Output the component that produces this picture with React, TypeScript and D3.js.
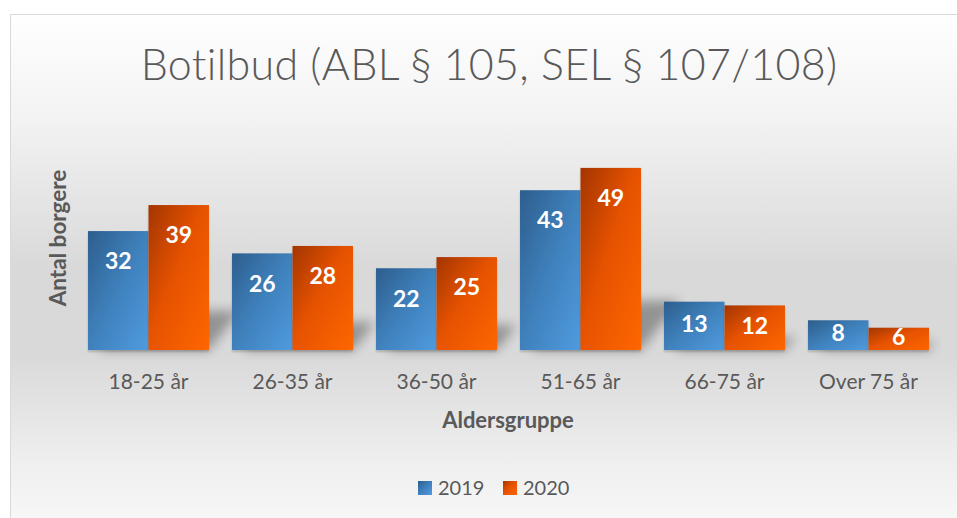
import React from "react";
import * as d3 from "d3";

const categories = ["18-25 år", "26-35 år", "36-50 år", "51-65 år", "66-75 år", "Over 75 år"];
const seriesNames = ["2019", "2020"];
const values2019 = [32, 26, 22, 43, 13, 8];
const values2020 = [39, 28, 25, 49, 12, 6];
const yMax = 60;

const W = 957;
const H = 518;
const FONT = "Lato, 'Open Sans', sans-serif";

export default function App() {
  const x = d3.scaleBand<string>().domain(categories).range([76.5, 940.5]).paddingInner(0.16).paddingOuter(0.08);
  const xs = d3.scaleBand<string>().domain(seriesNames).range([0, x.bandwidth()]).padding(0);
  const y = d3.scaleLinear().domain([0, yMax]).range([350, 127]);
  const series = [values2019, values2020];
  const base = y(0);

  return (
    <div style={{ position: "absolute", left: 0, top: 0 }}>
      <svg width={W} height={H} style={{ display: "block" }}>
        <defs>
          <linearGradient id="bg" x1="0" y1="0" x2="0" y2="1">
            <stop offset="0" stopColor="#ffffff" />
            <stop offset="0.2" stopColor="#f2f2f2" />
            <stop offset="0.47" stopColor="#d9d9d9" />
            <stop offset="0.63" stopColor="#d9d9d9" />
            <stop offset="0.82" stopColor="#eeeeee" />
            <stop offset="1" stopColor="#fcfcfc" />
          </linearGradient>
          <linearGradient id="g2019" x1="0" y1="0" x2="1" y2="1">
            <stop offset="0" stopColor="#2d5e8e" />
            <stop offset="0.5" stopColor="#3f81bc" />
            <stop offset="1" stopColor="#4f9be0" />
          </linearGradient>
          <linearGradient id="g2020" x1="0" y1="0" x2="1" y2="1">
            <stop offset="0" stopColor="#a33500" />
            <stop offset="0.45" stopColor="#e55200" />
            <stop offset="1" stopColor="#ff6600" />
          </linearGradient>
          <filter id="blur" x="-50%" y="-50%" width="200%" height="200%">
            <feGaussianBlur stdDeviation="6" />
          </filter>
          <filter id="drop" x="-10%" y="-10%" width="120%" height="130%">
            <feDropShadow dx="0" dy="2" stdDeviation="1.2" floodColor="#000" floodOpacity="0.18" />
          </filter>
        </defs>
        <rect x={0} y={0} width={W} height={H} fill="#ffffff" />
        <rect x={10.5} y={14.5} width={980} height={540} fill="url(#bg)" stroke="#d9d9d9" strokeWidth={1} />

        <text x={489} y={80} textAnchor="middle" fontFamily={FONT} fontWeight={300} fontSize={43} letterSpacing={0.3} fill="#595959">
          Botilbud (ABL § 105, SEL § 107/108)
        </text>

        {/* cast shadows */}
        <g filter="url(#blur)" opacity={0.32}>
          {categories.map((c, i) => {
            const x0 = x(c)!;
            const x1 = x0 + x.bandwidth();
            const h = Math.max(base - y(values2020[i]), base - y(values2019[i])) * 0.27;
            const dx = h * 0.8;
            return (
              <polygon
                key={c}
                points={`${x0 + 10},${base} ${x1},${base} ${x1 + dx},${base - h} ${x0 + 10 + dx},${base - h}`}
                fill="#000"
              />
            );
          })}
        </g>

        {series.map((vals, si) => (
          <g key={seriesNames[si]} filter="url(#drop)">
            {categories.map((c, i) => {
              const bx = x(c)! + xs(seriesNames[si])!;
              const top = y(vals[i]);
              return (
                <rect
                  key={c}
                  x={bx}
                  y={top}
                  width={xs.bandwidth()}
                  height={base - top}
                  fill={`url(#g${seriesNames[si]})`}
                />
              );
            })}
          </g>
        ))}

        {series.map((vals, si) => (
          <g key={"l" + seriesNames[si]}>
            {categories.map((c, i) => {
              const cx = x(c)! + xs(seriesNames[si])! + xs.bandwidth() / 2;
              const top = y(vals[i]);
              const cy = Math.min(top + 30, (top + base) / 2 - 2);
              return (
                <text
                  key={c}
                  x={cx}
                  y={cy}
                  dy="0.36em"
                  textAnchor="middle"
                  fontFamily={FONT}
                  fontWeight={700}
                  fontSize={23}
                  fill="#ffffff"
                >
                  {vals[i]}
                </text>
              );
            })}
          </g>
        ))}

        {categories.map((c) => (
          <text
            key={c}
            x={x(c)! + x.bandwidth() / 2}
            y={381}
            dy="0.36em"
            textAnchor="middle"
            fontFamily={FONT}
            fontSize={21}
            fill="#595959"
          >
            {c}
          </text>
        ))}

        <text x={508} y={420} dy="0.36em" textAnchor="middle" fontFamily={FONT} fontWeight={700} fontSize={22} fill="#595959">
          Aldersgruppe
        </text>

        <text
          transform={`translate(58,238) rotate(-90)`}
          dy="0.36em"
          textAnchor="middle"
          fontFamily={FONT}
          fontWeight={700}
          fontSize={22.5}
          fill="#595959"
        >
          Antal borgere
        </text>

        {seriesNames.map((s, i) => {
          const lx = 418 + i * 85;
          return (
            <g key={s}>
              <rect x={lx} y={481} width={14} height={14} fill={`url(#g${s})`} />
              <text x={lx + 20} y={488} dy="0.36em" fontFamily={FONT} fontSize={20} fill="#595959">
                {s}
              </text>
            </g>
          );
        })}
      </svg>
    </div>
  );
}
